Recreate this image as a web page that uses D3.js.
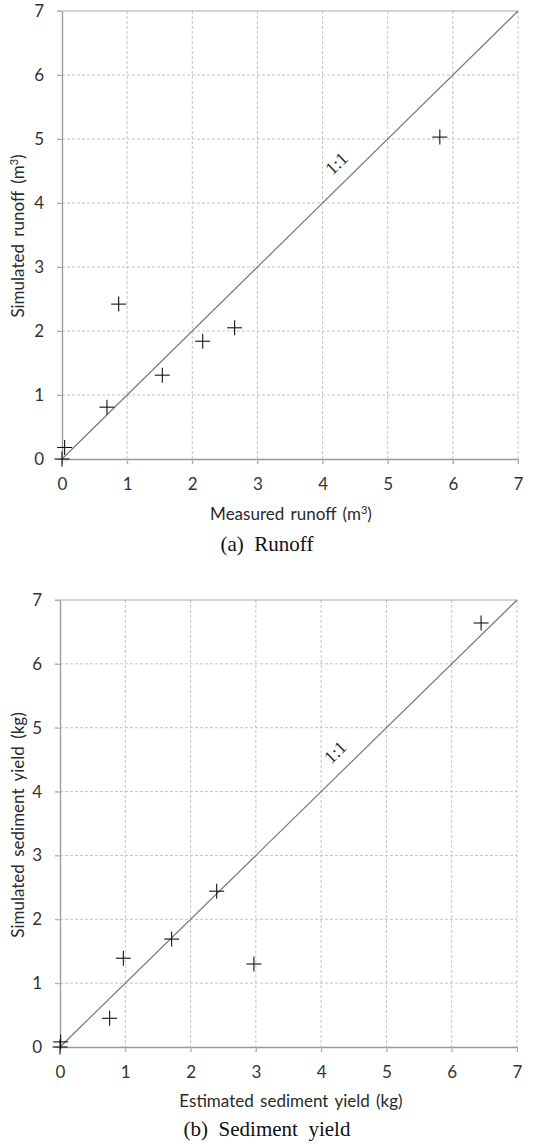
<!DOCTYPE html>
<html>
<head>
<meta charset="utf-8">
<script src="https://cdn.jsdelivr.net/npm/d3@7"></script>
<style>
  body { margin: 0; background: #fff; }
  svg { display: block; }
</style>
</head>
<body>
<div id="chart"></div>
<script>
// panel (a) runoff
const runoffMeasured = [0, 0.04, 0.69, 0.87, 1.54, 2.16, 2.65, 5.80];
const runoffSimulated = [0, 0.18, 0.81, 2.42, 1.31, 1.84, 2.05, 5.03];

// panel (b) sediment yield
const sedimentEstimated = [0, 0.01, 0.76, 0.97, 1.71, 2.40, 2.97, 6.45];
const sedimentSimulated = [0, 0.08, 0.45, 1.39, 1.69, 2.44, 1.30, 6.64];

const ticks = [0, 1, 2, 3, 4, 5, 6, 7];
const oneToOne = [0, 7];

const w = 545;
const h = 1144;
const sans = "Lato, 'Open Sans', sans-serif";
const serif = "'Liberation Serif', 'Times New Roman', serif";

const svg = d3.select("#chart")
  .append("svg")
  .attr("width", w)
  .attr("height", h);

function panel(cfg) {
  const xScale = d3.scaleLinear().domain([0, 7]).range([cfg.left, cfg.right]);
  const yScale = d3.scaleLinear().domain([0, 7]).range([cfg.bottom, cfg.top]);
  const g = svg.append("g");

  // dotted grid
  g.selectAll(".vgrid")
    .data(ticks.slice(1))
    .enter()
    .append("line")
    .attr("x1", (d) => xScale(d))
    .attr("x2", (d) => xScale(d))
    .attr("y1", cfg.top)
    .attr("y2", cfg.bottom + 5)
    .attr("stroke", "#c4c4c4")
    .attr("stroke-dasharray", "3,2");

  g.selectAll(".hgrid")
    .data(ticks.slice(1, -1))
    .enter()
    .append("line")
    .attr("x1", cfg.left - 5)
    .attr("x2", cfg.right)
    .attr("y1", (d) => yScale(d))
    .attr("y2", (d) => yScale(d))
    .attr("stroke", "#c4c4c4")
    .attr("stroke-dasharray", "3,2");

  // top border
  g.append("line")
    .attr("x1", cfg.left - 5).attr("x2", cfg.right)
    .attr("y1", yScale(7)).attr("y2", yScale(7))
    .attr("stroke", "#aaa");

  const xAxis = d3.axisBottom(xScale).tickValues(ticks).tickFormat(d3.format("d")).tickSize(5).tickSizeOuter(0);
  const yAxis = d3.axisLeft(yScale).tickValues(ticks).tickFormat(d3.format("d")).tickSize(5).tickSizeOuter(0);

  const gx = g.append("g")
    .attr("transform", `translate(0, ${cfg.bottom})`)
    .call(xAxis);
  const gy = g.append("g")
    .attr("transform", `translate(${cfg.left}, 0)`)
    .call(yAxis);

  [gx, gy].forEach((a) => {
    a.select(".domain").attr("stroke", "#999").attr("stroke-width", 1.3);
    a.selectAll(".tick line").attr("stroke", "#aaa");
    a.selectAll("text")
      .attr("font-family", sans)
      .attr("font-size", 17)
      .attr("fill", "#333");
  });
  gx.selectAll("text").attr("y", 19);
  gy.selectAll("text").attr("x", -18);

  // 1:1 line
  g.append("line")
    .attr("x1", xScale(oneToOne[0])).attr("y1", yScale(oneToOne[0]))
    .attr("x2", xScale(oneToOne[1])).attr("y2", yScale(oneToOne[1]))
    .attr("stroke", "#777")
    .attr("stroke-width", 1.2);

  const angle = -Math.atan2(yScale(0) - yScale(1), xScale(1) - xScale(0)) * 180 / Math.PI;
  g.append("text")
    .attr("transform", `translate(${xScale(4.28)}, ${yScale(4.55)}) rotate(${angle})`)
    .attr("text-anchor", "middle")
    .attr("font-family", serif)
    .attr("font-size", 18)
    .attr("fill", "#222")
    .text("1:1");

  // + markers
  const pts = cfg.xs.map((d, i) => [d, cfg.ys[i]]);
  const s = 7.5;
  const mk = g.selectAll(".pt")
    .data(pts)
    .enter()
    .append("g")
    .attr("transform", (d) => `translate(${xScale(d[0])}, ${yScale(d[1])})`);
  mk.append("line").attr("x1", -s).attr("x2", s).attr("stroke", "#111").attr("stroke-width", 1.1);
  mk.append("line").attr("y1", -s).attr("y2", s).attr("stroke", "#111").attr("stroke-width", 1.1);

  // titles
  g.append("text")
    .attr("x", cfg.xTitleX)
    .attr("y", cfg.bottom + cfg.xTitleDy)
    .attr("text-anchor", "middle")
    .attr("font-family", sans)
    .attr("font-size", 17)
    .attr("word-spacing", 2)
    .attr("fill", "#2a2a2a")
    .html(cfg.xTitle);

  g.append("text")
    .attr("transform", `translate(24, ${cfg.yTitleY}) rotate(-90)`)
    .attr("text-anchor", "middle")
    .attr("font-family", sans)
    .attr("font-size", 17)
    .attr("word-spacing", 3)
    .attr("fill", "#2a2a2a")
    .html(cfg.yTitle);

  g.append("text")
    .attr("x", 267)
    .attr("y", cfg.captionY)
    .attr("text-anchor", "middle")
    .attr("font-family", serif)
    .attr("font-size", 21)
    .attr("fill", "#111")
    .style("white-space", "pre")
    .text(cfg.caption);
}

panel({
  left: 62, right: 518, top: 11, bottom: 459,
  xs: runoffMeasured, ys: runoffSimulated,
  xTitle: "Measured runoff (m<tspan baseline-shift='super' font-size='11'>3</tspan>)",
  yTitle: "Simulated runoff (m<tspan baseline-shift='super' font-size='11'>3</tspan>)",
  xTitleX: 291, xTitleDy: 61, yTitleY: 236,
  caption: "(a)  Runoff", captionY: 551
});

panel({
  left: 60, right: 517, top: 600, bottom: 1047,
  xs: sedimentEstimated, ys: sedimentSimulated,
  xTitle: "Estimated sediment yield (kg)",
  yTitle: "Simulated sediment yield (kg)",
  xTitleX: 291, xTitleDy: 60, yTitleY: 825,
  caption: "(b)  Sediment  yield", captionY: 1136
});
</script>
</body>
</html>
